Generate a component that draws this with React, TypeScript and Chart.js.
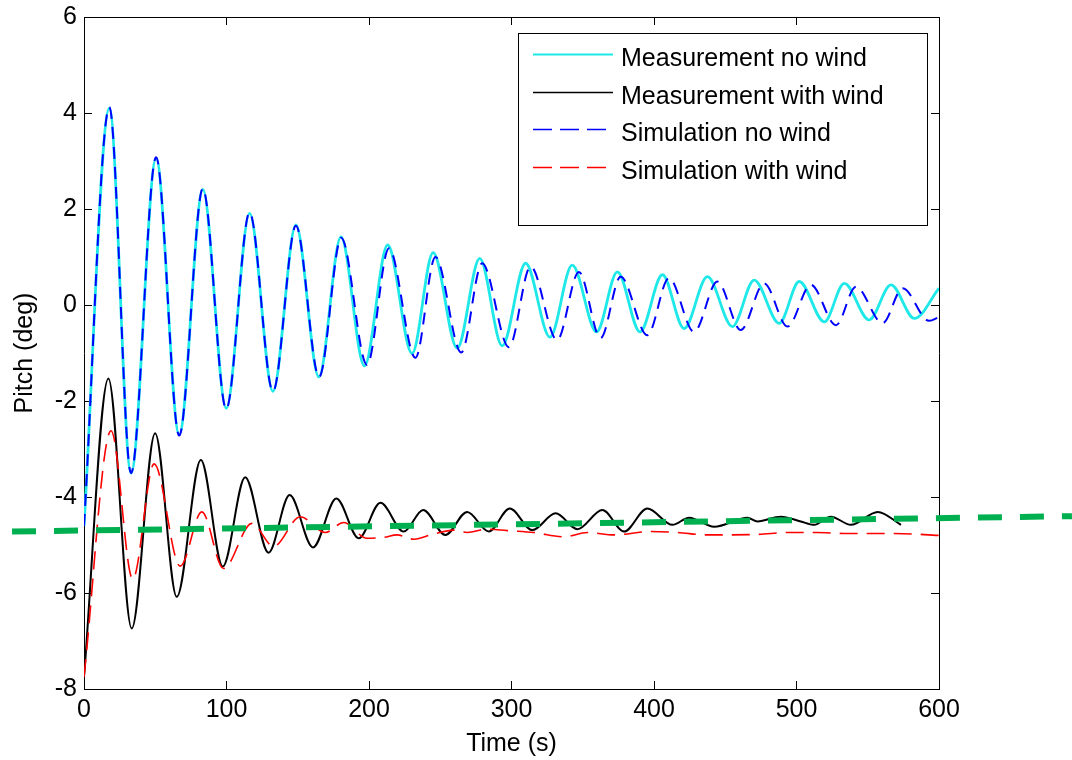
import React, { useEffect, useRef } from 'react';
import { Chart, registerables } from 'chart.js';

Chart.register(...registerables);

// ---- axes ----
const xTicks = [0, 100, 200, 300, 400, 500, 600];
const yTicks = [-8, -6, -4, -2, 0, 2, 4, 6];

// ---- Measurement no wind (cyan) ----
const measNoWindT = [0, 17.8, 33, 50.6, 66.8, 83.4, 99.8, 116.2, 132.6, 148.7, 164.8, 180.3, 196.8, 213.1, 230.2, 245, 261.9, 277.7, 293.5, 309.9, 327, 342.6, 359.7, 374.3, 390.2, 405.9, 421.1, 437.5, 455, 470.3, 487.9, 501.9, 519.5, 533.5, 551, 566.3, 582.7, 600];
const measNoWindY = [-4.6, 4.1, -3.5, 3.06, -2.7, 2.41, -2.15, 1.91, -1.8, 1.67, -1.5, 1.42, -1.27, 1.25, -1.01, 1.09, -0.9, 0.97, -0.85, 0.87, -0.67, 0.83, -0.56, 0.69, -0.56, 0.63, -0.49, 0.59, -0.45, 0.52, -0.38, 0.49, -0.35, 0.45, -0.31, 0.42, -0.28, 0.35];

// ---- Measurement with wind (black) ----
const measWindT = [0, 17.1, 33.5, 49.9, 65.1, 82, 97.4, 113.1, 129.5, 144.3, 160.7, 177.1, 192.8, 208, 224.4, 238, 253.6, 268.9, 284.1, 298.8, 314.6, 331, 346.2, 363.8, 379, 395.3, 413, 424.6, 442.2, 465.6, 472.6, 489, 503, 512.4, 524.1, 538.2, 557, 573.3];
const measWindY = [-7.75, -1.53, -6.74, -2.67, -6.08, -3.23, -5.45, -3.59, -5.16, -3.96, -5.05, -4.03, -4.86, -4.12, -4.72, -4.27, -4.79, -4.31, -4.72, -4.24, -4.69, -4.34, -4.67, -4.27, -4.72, -4.24, -4.58, -4.43, -4.62, -4.43, -4.51, -4.41, -4.51, -4.58, -4.41, -4.58, -4.31, -4.58];

// ---- Simulation no wind (blue dashed) ----
const simNoWindT = [0, 17.8, 33, 50.6, 66.8, 83.4, 99.8, 116.2, 132.6, 148.7, 165, 180.5, 198.6, 214, 232.6, 246.6, 264.7, 279.4, 298.2, 313.4, 332, 347.3, 362.5, 376.6, 395.3, 410.5, 428.1, 444.5, 460.9, 477.3, 493.7, 510.1, 527.7, 541.7, 560.4, 574.5, 593, 600];
const simNoWindY = [-4.6, 4.12, -3.5, 3.08, -2.72, 2.43, -2.17, 1.93, -1.8, 1.65, -1.5, 1.4, -1.25, 1.18, -1.1, 1.0, -0.99, 0.87, -0.88, 0.8, -0.73, 0.69, -0.69, 0.59, -0.63, 0.56, -0.56, 0.49, -0.52, 0.45, -0.45, 0.42, -0.42, 0.38, -0.38, 0.35, -0.33, -0.25];

// ---- Simulation with wind (red dashed) ----
const simWindT = [0, 19, 34.2, 49.2, 67.5, 82.7, 97.9, 117.8, 133, 151.8, 169.3, 182.2, 198.6, 210.3, 219.7, 231.4, 245.4, 259.5, 268.9, 282.9, 297, 315.7, 336.8, 353.2, 371.9, 397.7, 416.4, 437.5, 472.6, 493.7, 514, 533.5, 568.6, 600];
const simWindY = [-7.75, -2.62, -5.71, -3.31, -5.44, -4.31, -5.49, -4.55, -5.03, -4.41, -4.74, -4.53, -4.86, -4.84, -4.79, -4.88, -4.77, -4.69, -4.74, -4.67, -4.7, -4.74, -4.83, -4.74, -4.79, -4.72, -4.74, -4.79, -4.78, -4.74, -4.74, -4.76, -4.76, -4.8];

// ---- Green dashed guide line (overlay extending past the axes) ----
const guideT = [-50.5, 693.3];
const guideY = [-4.72, -4.4];

const FONT = '"Liberation Sans", Arial, Helvetica, sans-serif';

const zip = (t: number[], y: number[]) => t.map((v, i) => ({ x: v, y: y[i] }));

const boxLegend = {
  id: 'boxLegend',
  afterDraw(chart: any) {
    const ctx = chart.ctx as CanvasRenderingContext2D;
    const items = chart.data.datasets.filter((d: any) => !d.hideInLegend);
    const boxL = 518, boxT = 33, boxW = 409, boxH = 192;
    const row0 = 54, rowH = 37.5, s0 = 533, s1 = 613, tx = 621;
    ctx.save();
    ctx.fillStyle = '#ffffff';
    ctx.fillRect(boxL, boxT, boxW, boxH);
    ctx.strokeStyle = '#000000';
    ctx.lineWidth = 1;
    ctx.setLineDash([]);
    ctx.strokeRect(boxL + 0.5, boxT + 0.5, boxW, boxH);
    items.forEach((ds: any, i: number) => {
      const y = Math.round(row0 + i * rowH) + 0.5;
      ctx.strokeStyle = ds.borderColor;
      ctx.lineWidth = ds.legendWidth || 1.5;
      ctx.setLineDash(ds.legendDash || []);
      ctx.beginPath();
      ctx.moveTo(s0, y);
      ctx.lineTo(s1, y);
      ctx.stroke();
      ctx.setLineDash([]);
      ctx.fillStyle = '#000000';
      ctx.font = `25px ${FONT}`;
      ctx.textBaseline = 'alphabetic';
      ctx.textAlign = 'left';
      ctx.fillText(ds.label, tx, y + 11);
    });
    ctx.restore();
  },
};

const zeroPad = (s: any) => {
  s.paddingTop = 0;
  s.paddingBottom = 0;
  s.paddingLeft = 0;
  s.paddingRight = 0;
};

export default function App() {
  const ref = useRef<HTMLCanvasElement | null>(null);

  useEffect(() => {
    if (!ref.current) return;
    const tickFont = { family: FONT, size: 25, lineHeight: 1.2 };
    const gridCommon = {
      display: true,
      drawOnChartArea: false,
      drawTicks: true,
      tickLength: -8,
      color: '#000000',
      lineWidth: 1,
    };
    const borderCommon = { display: true, color: '#000000', width: 1 };

    const chart = new Chart(ref.current, {
      type: 'line',
      data: {
        datasets: [
          {
            label: 'Measurement no wind',
            data: zip(measNoWindT, measNoWindY),
            borderColor: '#1fe8e8',
            borderWidth: 2.8,
            legendWidth: 2,
            order: 5,
            xAxisID: 'x',
            yAxisID: 'y',
          } as any,
          {
            label: 'Measurement with wind',
            data: zip(measWindT, measWindY),
            borderColor: '#000000',
            borderWidth: 2,
            legendWidth: 1.5,
            order: 4,
            xAxisID: 'x',
            yAxisID: 'y',
          } as any,
          {
            label: 'Simulation no wind',
            data: zip(simNoWindT, simNoWindY),
            borderColor: '#0000ff',
            borderWidth: 2,
            borderDash: [12, 8],
            legendWidth: 1.5,
            legendDash: [19, 8],
            order: 3,
            xAxisID: 'x',
            yAxisID: 'y',
          } as any,
          {
            label: 'Simulation with wind',
            data: zip(simWindT, simWindY),
            borderColor: '#ff0000',
            borderWidth: 1.6,
            borderDash: [18, 9],
            legendWidth: 1.5,
            legendDash: [19, 8],
            order: 2,
            xAxisID: 'x',
            yAxisID: 'y',
          } as any,
          {
            label: 'guide',
            data: zip(guideT, guideY),
            borderColor: '#00b050',
            borderWidth: 6,
            borderDash: [24, 18],
            cubicInterpolationMode: 'default',
            tension: 0,
            clip: false,
            hideInLegend: true,
            order: 1,
            xAxisID: 'x',
            yAxisID: 'y',
          } as any,
        ],
      },
      options: {
        animation: false,
        responsive: false,
        maintainAspectRatio: false,
        events: [],
        layout: { padding: { left: 0, top: 17, right: 133, bottom: 0 } },
        elements: {
          point: { radius: 0 },
          line: { cubicInterpolationMode: 'monotone', fill: false },
        },
        plugins: {
          legend: { display: false },
          tooltip: { enabled: false },
        },
        scales: {
          x: {
            type: 'linear',
            position: 'bottom',
            min: 0,
            max: 600,
            afterBuildTicks: (s: any) => {
              s.ticks = xTicks.map((v) => ({ value: v }));
            },
            afterFit: (s: any) => {
              s.height = 71;
              zeroPad(s);
            },
            grid: gridCommon,
            border: borderCommon,
            ticks: { font: tickFont, color: '#000000', padding: 14.5, maxRotation: 0, autoSkip: false },
            title: {
              display: true,
              text: 'Time (s)',
              color: '#000000',
              font: { family: FONT, size: 25, lineHeight: 1.2 },
              padding: { top: 0, bottom: 1 },
            },
          },
          x2: {
            type: 'linear',
            position: 'top',
            min: 0,
            max: 600,
            afterBuildTicks: (s: any) => {
              s.ticks = xTicks.map((v) => ({ value: v }));
            },
            afterFit: (s: any) => {
              s.height = 0;
              zeroPad(s);
            },
            grid: gridCommon,
            border: borderCommon,
            ticks: { display: false },
          },
          y: {
            type: 'linear',
            position: 'left',
            min: -8,
            max: 6,
            afterBuildTicks: (s: any) => {
              s.ticks = yTicks.map((v) => ({ value: v }));
            },
            afterFit: (s: any) => {
              s.width = 84;
              zeroPad(s);
            },
            grid: gridCommon,
            border: borderCommon,
            ticks: { font: tickFont, color: '#000000', padding: 15, autoSkip: false },
            title: {
              display: true,
              text: 'Pitch (deg)',
              color: '#000000',
              font: { family: FONT, size: 25, lineHeight: 1.2 },
              padding: { top: 10, bottom: 0 },
            },
          },
          y2: {
            type: 'linear',
            position: 'right',
            min: -8,
            max: 6,
            afterBuildTicks: (s: any) => {
              s.ticks = yTicks.map((v) => ({ value: v }));
            },
            afterFit: (s: any) => {
              s.width = 0;
              zeroPad(s);
            },
            grid: gridCommon,
            border: borderCommon,
            ticks: { display: false },
          },
        },
      } as any,
      plugins: [boxLegend],
    });
    return () => chart.destroy();
  }, []);

  return (
    <div style={{ position: 'fixed', left: 0, top: 0, width: 1072, height: 760, background: '#ffffff' }}>
      <canvas ref={ref} width={1072} height={760} style={{ width: 1072, height: 760, display: 'block' }} />
    </div>
  );
}
